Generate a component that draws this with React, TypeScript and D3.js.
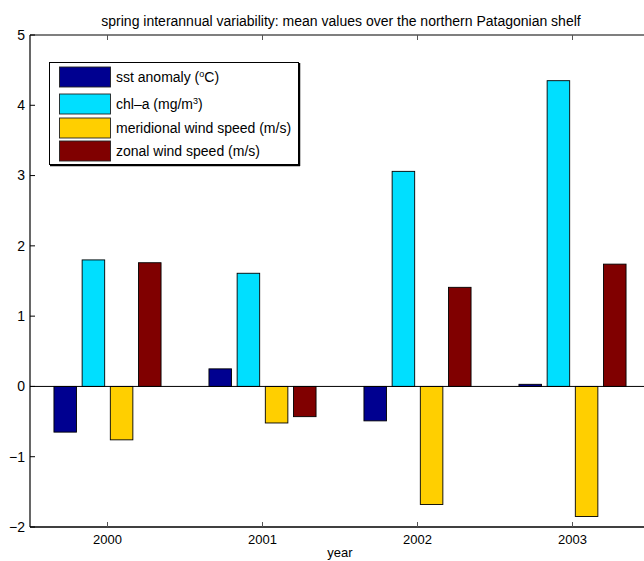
import React from 'react';
import * as d3 from 'd3';

// chart values
const years = [2000, 2001, 2002, 2003];
const sstAnomaly = [-0.65, 0.25, -0.49, 0.03];
const chlA = [1.8, 1.61, 3.06, 4.35];
const meridionalWind = [-0.76, -0.52, -1.68, -1.85];
const zonalWind = [1.76, -0.43, 1.41, 1.74];
const yTicks = [-2, -1, 0, 1, 2, 3, 4, 5];

const seriesNames = ['sst', 'chl', 'mer', 'zon'];
const seriesColors = ['#000090', '#00DFFF', '#FFCF00', '#800000'];

const width = 644;
const height = 561;
const font = '"Liberation Sans", Arial, Helvetica, sans-serif';

const App = () => {
  const series = [sstAnomaly, chlA, meridionalWind, zonalWind];

  // MATLAB style axes: x limits half a year either side, right edge runs off the page
  const x = d3.scaleLinear().domain([1999.5, 2003.5]).range([30, 650]);
  const y = d3.scaleLinear().domain([-2, 5]).range([527, 35]);

  // grouped bar geometry (same rule as matlab's bar())
  const groupWidth = Math.min(0.8, 4 / (4 + 1.5));
  const step = groupWidth / 4;
  const barW = step * 0.8;
  const offset = (i) => (i - 1.5) * step;

  const left = x(1999.5);
  const right = x(2003.5);
  const top = y(5);
  const bottom = y(-2);

  // legend layout
  const legendRows = [77, 104, 128, 151];
  const legendLabels = [
    <>sst anomaly (<tspan dy={-5} fontSize={9}>o</tspan><tspan dy={5}>C)</tspan></>,
    <>chl–a (mg/m<tspan dy={-5} fontSize={9}>3</tspan><tspan dy={5}>)</tspan></>,
    <>meridional wind speed (m/s)</>,
    <>zonal wind speed (m/s)</>,
  ];

  return (
    <svg
      width={width}
      height={height}
      style={{ position: 'absolute', left: 0, top: 0, background: '#fff' }}
      fontFamily={font}
    >
      <text x={341} y={26} fontSize={14} textAnchor="middle" fill="#000">
        spring interannual variability: mean values over the northern Patagonian shelf
      </text>

      {/* bars */}
      {series.map((vals, si) =>
        vals.map((v, yi) => {
          const cx = x(years[yi] + offset(si));
          const y0 = y(Math.max(0, v));
          const y1 = y(Math.min(0, v));
          return (
            <rect
              key={seriesNames[si] + yi}
              x={cx - (x(barW) - x(0)) / 2}
              y={y0}
              width={x(barW) - x(0)}
              height={Math.max(1, y1 - y0)}
              fill={seriesColors[si]}
              stroke="#000"
              strokeWidth={0.9}
            />
          );
        })
      )}

      {/* zero baseline */}
      <line x1={left} x2={right} y1={y(0)} y2={y(0)} stroke="#000" strokeWidth={1} />

      {/* axes box */}
      <line x1={left} x2={right} y1={top} y2={top} stroke="#000" strokeWidth={1.2} />
      <line x1={left} x2={right} y1={bottom} y2={bottom} stroke="#000" strokeWidth={1.4} />
      <line x1={left} x2={left} y1={top} y2={bottom} stroke="#000" strokeWidth={1.2} />

      {/* y ticks */}
      {yTicks.map((t) => (
        <g key={'y' + t}>
          <line x1={left} x2={left + 5} y1={y(t)} y2={y(t)} stroke="#000" />
          <text x={left - 5} y={y(t)} dy="0.35em" fontSize={14} textAnchor="end" fill="#000">
            {t < 0 ? '−' + Math.abs(t) : t}
          </text>
        </g>
      ))}

      {/* x ticks */}
      {years.map((yr) => (
        <g key={'x' + yr}>
          <line x1={x(yr)} x2={x(yr)} y1={bottom} y2={bottom - 5} stroke="#555" />
          <line x1={x(yr)} x2={x(yr)} y1={top} y2={top + 5} stroke="#555" />
          <text x={x(yr)} y={bottom + 17} fontSize={13} textAnchor="middle" fill="#000">
            {yr}
          </text>
        </g>
      ))}
      <text x={340} y={557} fontSize={13} textAnchor="middle" fill="#000">year</text>

      {/* legend */}
      <g>
        <rect x={49.5} y={62.5} width={249} height={102} fill="#fff" stroke="#000" strokeWidth={1} />
        <line x1={299.5} x2={299.5} y1={63} y2={166} stroke="#000" strokeWidth={1.5} />
        <line x1={50} x2={300} y1={165.5} y2={165.5} stroke="#000" strokeWidth={1.5} />
        {legendRows.map((cy, i) => (
          <g key={'l' + i}>
            <rect x={59.5} y={cy - 10} width={51} height={20} fill={seriesColors[i]} stroke="#222" strokeWidth={0.9} />
            <text x={116} y={cy} dy="0.35em" fontSize={14} fill="#000">
              {legendLabels[i]}
            </text>
          </g>
        ))}
      </g>
    </svg>
  );
};

export default App;
